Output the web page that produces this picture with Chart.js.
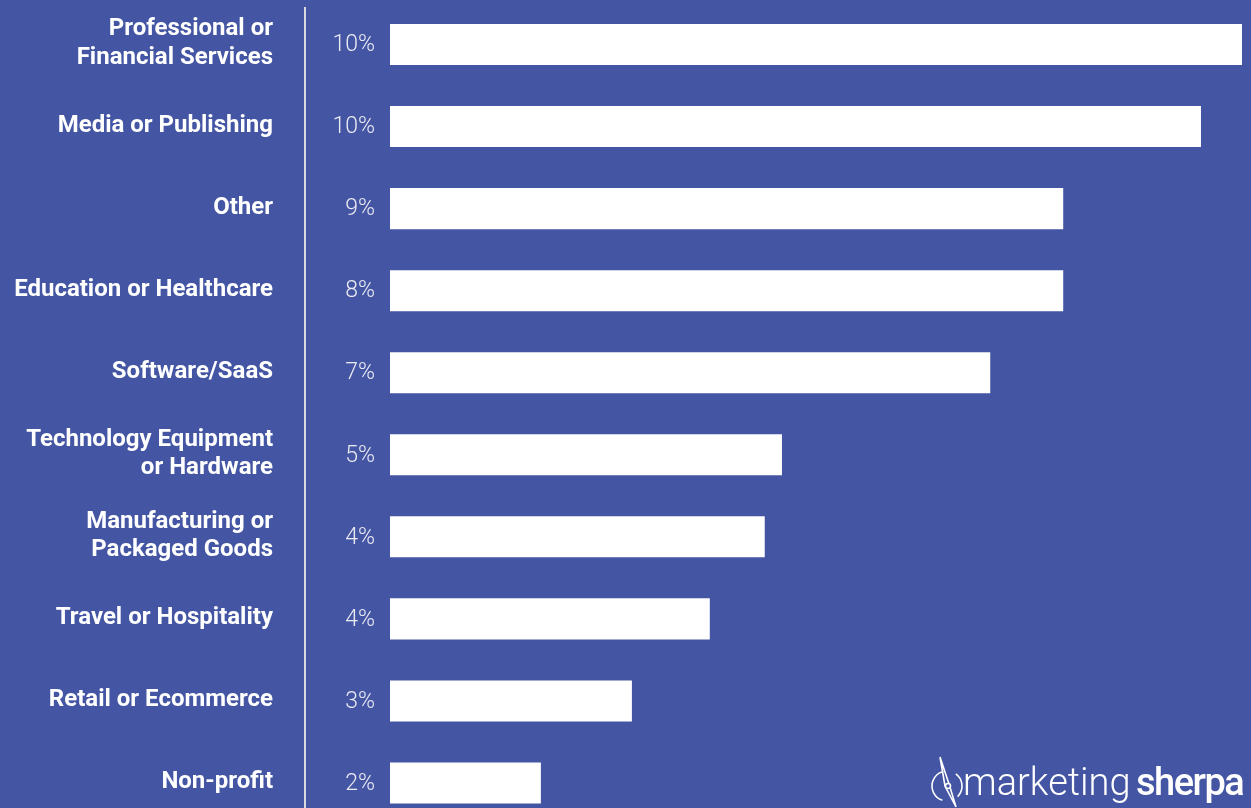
<!doctype html>
<html lang="en">
  <head>
    <meta charset="UTF-8" />
    <script src="https://cdn.jsdelivr.net/npm/chart.js@4.4.0/dist/chart.umd.min.js"></script>
    <style>
      html, body { margin: 0; padding: 0; background: #4355a3; overflow: hidden; }
      #wrap { position: relative; width: 1251px; height: 824px; }
    </style>
  </head>
  <body>
    <div id="wrap"><canvas id="myChart"></canvas></div>

    <script>
      // industries, top to bottom
      const industries = [
        ['Professional or', 'Financial Services'],
        'Media or Publishing',
        'Other',
        'Education or Healthcare',
        'Software/SaaS',
        ['Technology Equipment', 'or Hardware'],
        ['Manufacturing or', 'Packaged Goods'],
        'Travel or Hospitality',
        'Retail or Ecommerce',
        'Non-profit'
      ];
      // bar lengths as drawn (percent)
      const shares = [10.39, 9.89, 8.21, 8.21, 7.32, 4.78, 4.57, 3.9, 2.95, 1.84];
      // the printed value labels
      const shareLabels = ['10%', '10%', '9%', '8%', '7%', '5%', '4%', '4%', '3%', '2%'];

      const bg = '#4355a3';

      // divider line, value labels and the logo
      const decor = {
        id: 'decor',
        beforeDraw(chart) {
          const c = chart.ctx;
          c.save();
          c.fillStyle = bg;
          c.fillRect(0, 0, chart.width, chart.height);
          c.restore();
        },
        afterDatasetsDraw(chart) {
          const c = chart.ctx;
          const meta = chart.getDatasetMeta(0);
          c.save();
          c.strokeStyle = '#d9d9de';
          c.lineWidth = 2;
          c.beginPath();
          c.moveTo(305, 7);
          c.lineTo(305, chart.height);
          c.stroke();

          c.fillStyle = '#ebebf2';
          c.font = '300 23px Roboto';
          c.textAlign = 'right';
          c.textBaseline = 'middle';
          meta.data.forEach((bar, i) => {
            c.fillText(shareLabels[i], 375, bar.y + 1);
          });

          // marketingsherpa mark
          c.fillStyle = '#ffffff';
          c.textAlign = 'left';
          c.textBaseline = 'alphabetic';
          c.font = '300 38px Roboto';
          c.fillText('marketing', 963, 795);
          c.font = '500 38px Roboto';
          c.letterSpacing = '-1.5px';
          c.fillText('sherpa', 1136, 795);
          c.letterSpacing = '0px';

          c.strokeStyle = '#ffffff';
          c.lineWidth = 1.6;
          c.beginPath();
          c.arc(947, 786, 15, Math.PI * 0.6, Math.PI * 1.42);
          c.stroke();
          c.beginPath();
          c.arc(947, 786, 15, Math.PI * 1.7, Math.PI * 2.25);
          c.stroke();
          // needle
          c.beginPath();
          c.moveTo(940, 757);
          c.lineTo(949, 784);
          c.lineTo(956, 807);
          c.lineTo(945, 786);
          c.closePath();
          c.stroke();
          c.fillStyle = bg;
          c.beginPath();
          c.arc(948, 786, 2.5, 0, Math.PI * 2);
          c.fill();
          c.stroke();
          c.restore();
        }
      };

      const ctx = document.getElementById('myChart').getContext('2d');
      const myChart = new Chart(ctx, {
        type: 'bar',
        data: {
          labels: industries,
          datasets: [{
            data: shares,
            backgroundColor: '#ffffff',
            borderWidth: 0,
            barPercentage: 0.5,
            categoryPercentage: 1
          }]
        },
        options: {
          indexAxis: 'y',
          responsive: true,
          maintainAspectRatio: false,
          animation: false,
          layout: { padding: { top: 3.5, right: 0, bottom: 0, left: 0 } },
          plugins: { legend: { display: false }, tooltip: { enabled: false } },
          scales: {
            x: {
              display: false,
              min: 0,
              max: 10.5
            },
            y: {
              grid: { display: false, drawTicks: false },
              border: { display: false },
              afterFit(scale) {
                scale.width = 390;
                scale.paddingTop = 0;
                scale.paddingBottom = 0;
              },
              ticks: {
                color: '#ffffff',
                padding: 117,
                labelOffset: -1,
                font: { family: 'Roboto', size: 24, weight: 'bold', lineHeight: 1.17 }
              }
            }
          }
        },
        plugins: [decor]
      });
    </script>
  </body>
</html>
